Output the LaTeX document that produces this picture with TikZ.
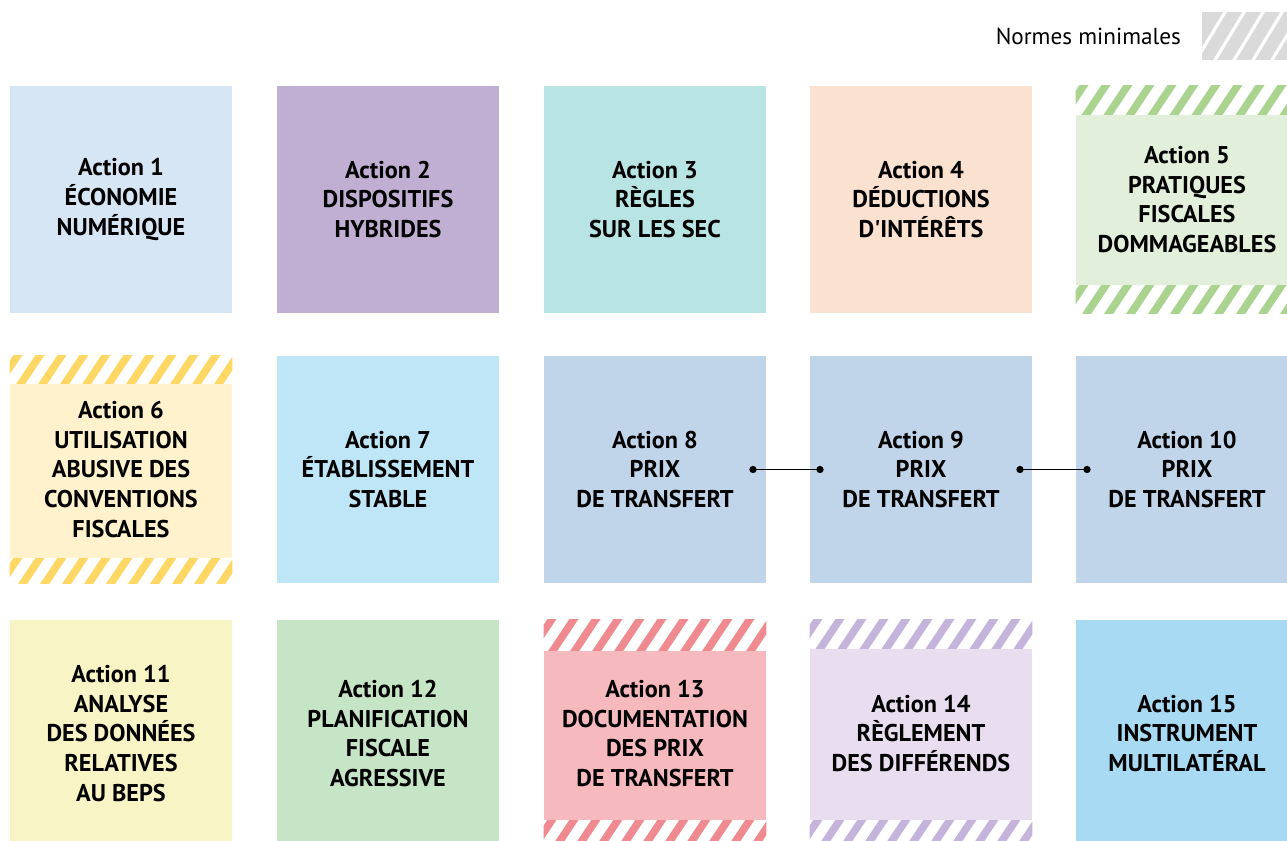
\documentclass[tikz,border=0pt]{standalone}
\usepackage{fontspec}
\setmainfont{PT Sans}
\usetikzlibrary{arrows.meta,calc}

% fills of the action boxes
\definecolor{actOne}{HTML}{D7E6F4}
\definecolor{actTwo}{HTML}{C1AFD3}
\definecolor{actThree}{HTML}{B9E4E4}
\definecolor{actFour}{HTML}{FBE1CF}
\definecolor{actFive}{HTML}{E2EFDB}
\definecolor{actSix}{HTML}{FFF2CC}
\definecolor{actSeven}{HTML}{BFE6F6}
\definecolor{actPrix}{HTML}{C1D5EA}
\definecolor{actEleven}{HTML}{F8F4C5}
\definecolor{actTwelve}{HTML}{C6E4C6}
\definecolor{actThirteen}{HTML}{F6B9BD}
\definecolor{actFourteen}{HTML}{E9DEEF}
\definecolor{actFifteen}{HTML}{A8DBF3}
% hatching colours
\definecolor{hatchFive}{HTML}{A9D38F}
\definecolor{hatchSix}{HTML}{FFD764}
\definecolor{hatchThirteen}{HTML}{F08A91}
\definecolor{hatchFourteen}{HTML}{C4B4DC}
\definecolor{hatchNorme}{HTML}{DADADA}

% striped band between two corners, #3 = stripe colour
\newcommand{\hatchband}[3]{%
  \begin{scope}
    \clip #1 rectangle #2;
    \fill[white] #1 rectangle #2;
    \foreach \k in {-2,...,12}
      \draw[#3, line width=3.8pt] ($#1+(\k*22,45)$) -- ++(40,-60);
  \end{scope}}

\begin{document}
\begin{tikzpicture}[x=0.5pt, y=-0.5pt,
    action/.style={minimum width=111pt, minimum height=113.5pt, inner sep=0pt,
      align=center, font=\bfseries\fontsize{12.1}{14.85}\selectfont},
    link/.style={{Circle[length=3.6pt]}-{Circle[length=3.6pt]}, line width=0.7pt}]
\clip (0,0) rectangle (1287,841);
\useasboundingbox (0,0) rectangle (1287,841);

% legend
\node[anchor=east, font=\fontsize{11.6}{13}\selectfont] (norme) at (1188,36) {Normes minimales};
\fill[hatchNorme] (1202,12) rectangle (1287,60);
\begin{scope}
  \clip (1202,12) rectangle (1287,60);
  \foreach \k in {0,...,6}
    \draw[white, line width=1.6pt] (1190+\k*19,70) -- ++(40,-66);
\end{scope}

% row 1
\node[action, fill=actOne] (a1) at (121,199.5) {Action 1\\ÉCONOMIE\\NUMÉRIQUE};
\node[action, fill=actTwo] (a2) at (388,199.5) {Action 2\\DISPOSITIFS\\HYBRIDES};
\node[action, fill=actThree] (a3) at (655,199.5) {Action 3\\RÈGLES\\SUR LES SEC};
\node[action, fill=actFour] (a4) at (921,199.5) {Action 4\\DÉDUCTIONS\\D\textquotesingle INTÉRÊTS};
\node[action, fill=actFive] (a5) at (1187,199.5) {Action 5\\PRATIQUES\\FISCALES\\DOMMAGEABLES};

% row 2
\node[action, fill=actSix] (a6) at (121,469.5) {Action 6\\UTILISATION\\ABUSIVE DES\\CONVENTIONS\\FISCALES};
\node[action, fill=actSeven] (a7) at (388,469.5) {Action 7\\ÉTABLISSEMENT\\STABLE};
\node[action, fill=actPrix] (a8) at (655,469.5) {Action 8\\PRIX\\DE TRANSFERT};
\node[action, fill=actPrix] (a9) at (921,469.5) {Action 9\\PRIX\\DE TRANSFERT};
\node[action, fill=actPrix] (a10) at (1187,469.5) {Action 10\\PRIX\\DE TRANSFERT};

% row 3
\node[action, fill=actEleven] (a11) at (121,733.5) {Action 11\\ANALYSE\\DES DONNÉES\\RELATIVES\\AU BEPS};
\node[action, fill=actTwelve] (a12) at (388,733.5) {Action 12\\PLANIFICATION\\FISCALE\\AGRESSIVE};
\node[action, fill=actThirteen] (a13) at (655,733.5) {Action 13\\DOCUMENTATION\\DES PRIX\\DE TRANSFERT};
\node[action, fill=actFourteen] (a14) at (921,733.5) {Action 14\\RÈGLEMENT\\DES DIFFÉRENDS};
\node[action, fill=actFifteen] (a15) at (1187,733.5) {Action 15\\INSTRUMENT\\MULTILATÉRAL};

% minimum standards: hatched bands
\hatchband{(a5.north west)}{($(a5.north east)+(0,29)$)}{hatchFive}
\hatchband{($(a5.south west)+(0,-28)$)}{(a5.south east)}{hatchFive}
\hatchband{(a6.north west)}{($(a6.north east)+(0,28)$)}{hatchSix}
\hatchband{($(a6.south west)+(0,-25)$)}{(a6.south east)}{hatchSix}
\hatchband{(a13.north west)}{($(a13.north east)+(0,31)$)}{hatchThirteen}
\hatchband{($(a13.south west)+(0,-27)$)}{(a13.south east)}{hatchThirteen}
\hatchband{(a14.north west)}{($(a14.north east)+(0,29)$)}{hatchFourteen}
\hatchband{($(a14.south west)+(0,-27)$)}{(a14.south east)}{hatchFourteen}

% transfer pricing links
\draw[link] ([xshift=-8.5pt]a8.east) -- ([xshift=7pt]a9.west);
\draw[link] ([xshift=-8pt]a9.east) -- ([xshift=7.5pt]a10.west);
\end{tikzpicture}
\end{document}
